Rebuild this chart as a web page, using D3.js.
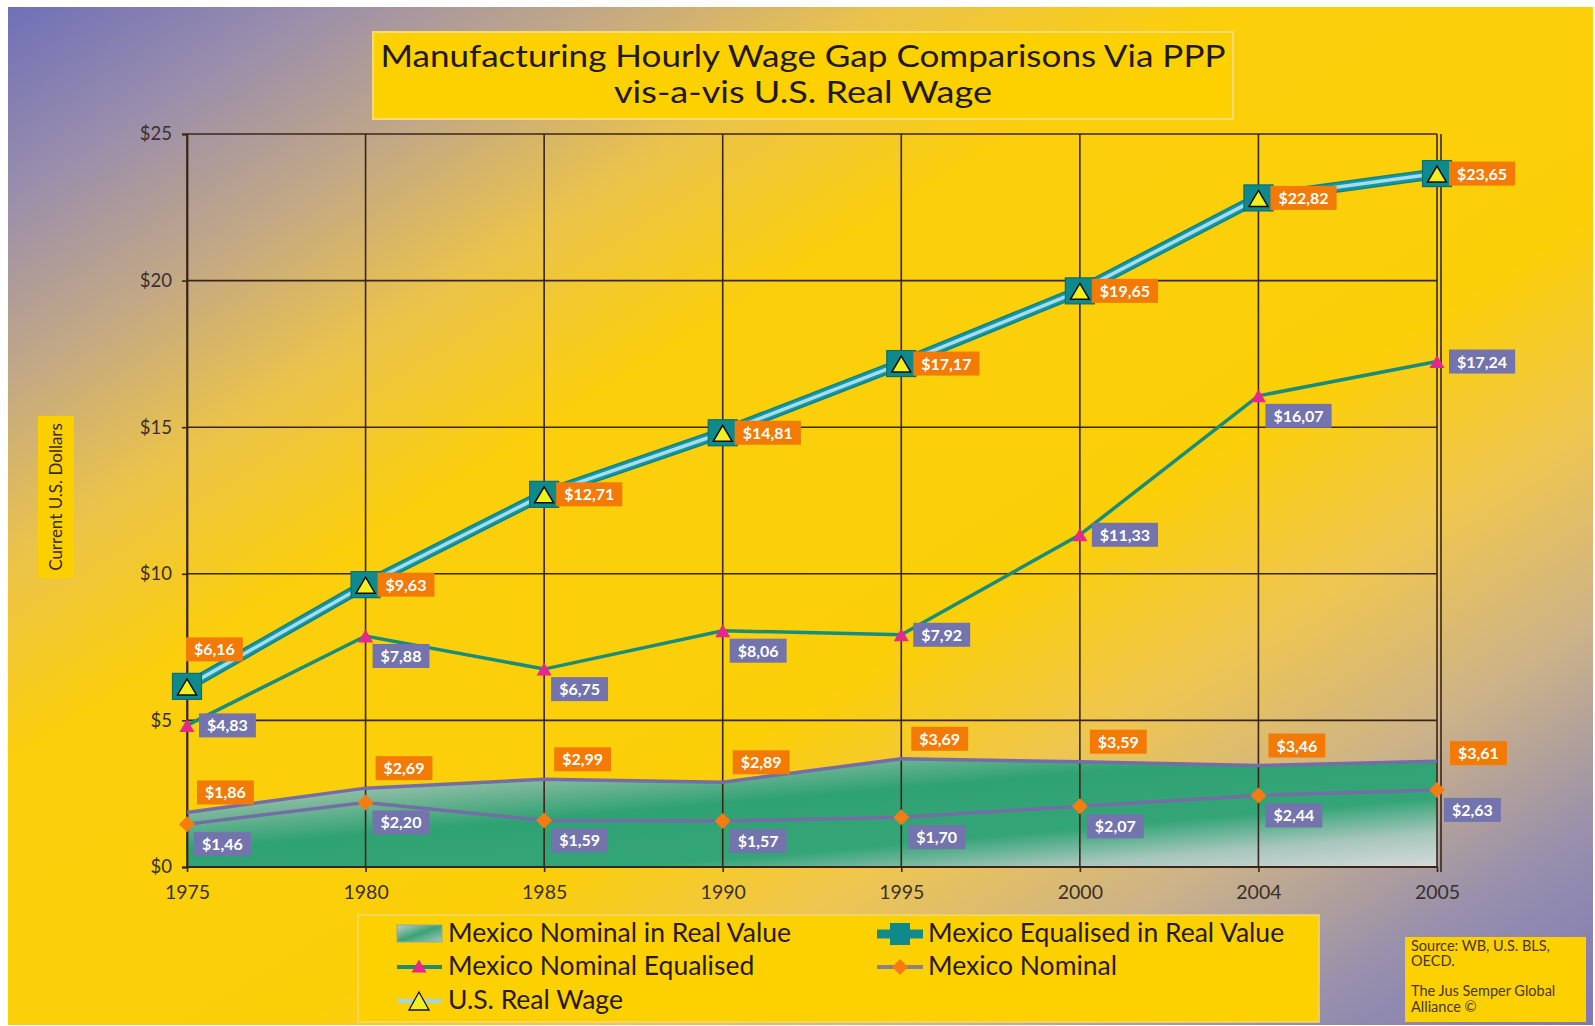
<!DOCTYPE html>
<html><head><meta charset="utf-8">
<script src="https://cdn.jsdelivr.net/npm/d3@7"></script>
<style>html,body{margin:0;padding:0;background:#fff;} svg{display:block}</style>
</head><body><svg id="c" width="1595" height="1026"></svg>
<script>
// ---------------- DATA ----------------
const years = ["1975","1980","1985","1990","1995","2000","2004","2005"];
const usRealWage          = [6.16, 9.63, 12.71, 14.81, 17.17, 19.65, 22.82, 23.65];
const mexEqualisedReal    = [6.16, 9.63, 12.71, 14.81, 17.17, 19.65, 22.82, 23.65];
const mexNominalEqualised = [4.83, 7.88, 6.75, 8.06, 7.92, 11.33, 16.07, 17.24];
const mexNominalReal      = [1.86, 2.69, 2.99, 2.89, 3.69, 3.59, 3.46, 3.61];
const mexNominal          = [1.46, 2.20, 1.59, 1.57, 1.70, 2.07, 2.44, 2.63];
const yTicks = [0, 5, 10, 15, 20, 25];
const titleLines = ["Manufacturing Hourly Wage Gap Comparisons Via PPP", "vis-a-vis U.S. Real Wage"];
const yTitle = "Current U.S. Dollars";
const legendNames = ["Mexico Nominal in Real Value", "Mexico Equalised in Real Value",
                     "Mexico Nominal Equalised", "Mexico Nominal", "U.S. Real Wage"];
const sourceLines = ["Source: WB, U.S. BLS,", "OECD.", "The Jus Semper Global", "Alliance \u00A9"];
// label placement keywords (styling)
const usLabelPlace      = ["above","right","right","right","right","right","right","right"];
const nomEqLabelPlace   = ["right","belowRight","belowRight","belowRight","right","right","belowRight","right"];
const nomRealLabelPlace = ["aboveRight","aboveRight","aboveRight","aboveRight","aboveRight","aboveRight","aboveRight","rightHigh"];
const nomLabelPlace     = ["belowRight","belowRight","belowRight","belowRight","belowRight","belowRight","belowRight","belowRight"];

// ---------------- SETUP ----------------
const W = 1595, H = 1026;
const svg = d3.select("#c");
const defs = svg.append("defs");
const FONT = "Lato, 'Open Sans', sans-serif";

const bg = defs.append("linearGradient").attr("id","bg").attr("gradientUnits","userSpaceOnUse")
  .attr("x1",0).attr("y1",0).attr("x2",909).attr("y2",1455);
[[0,"#6c6eb8"],[0.1,"#9a8eac"],[0.19,"#c2a886"],[0.28,"#ebc34a"],[0.38,"#fbcf0c"],[0.6,"#fbcf08"],
 [0.7,"#efc650"],[0.8,"#cdb388"],[0.9,"#9890ac"],[1,"#7c78b8"]]
 .forEach(([o,c]) => bg.append("stop").attr("offset",o).attr("stop-color",c));

const ag = defs.append("linearGradient").attr("id","areaG").attr("x1",0).attr("y1",0).attr("x2",1).attr("y2",1);
[[0,"#c4cec6"],[0.22,"#8cbca4"],[0.42,"#2fa273"],[0.68,"#34a576"],[0.84,"#a6c6bc"],[1,"#d6dada"]]
 .forEach(([o,c]) => ag.append("stop").attr("offset",o).attr("stop-color",c));

const lg = defs.append("linearGradient").attr("id","legG").attr("x1",0).attr("y1",0).attr("x2",1).attr("y2",1);
[[0,"#c0d0c8"],[0.5,"#3aa276"],[1,"#a8c8bc"]]
 .forEach(([o,c]) => lg.append("stop").attr("offset",o).attr("stop-color",c));

svg.append("rect").attr("width",W).attr("height",H).attr("fill","#fff");
svg.append("rect").attr("x",8).attr("y",7).attr("width",W-10).attr("height",H-8).attr("fill","url(#bg)");

// scales
const x = d3.scalePoint().domain(years).range([187, 1437]);
const y = d3.scaleLinear().domain([0, 25]).range([867, 134]);

// ---------------- TITLE ----------------
svg.append("rect").attr("x",373).attr("y",32).attr("width",860).attr("height",87)
  .attr("fill","#fdd000").attr("stroke","#f3dc78").attr("stroke-width",2);
const titleLen = [845, 378];
svg.selectAll("text.title").data(titleLines).enter().append("text")
  .attr("x",803).attr("y",(d,i)=>67+i*36).attr("text-anchor","middle")
  .attr("textLength",(d,i)=>titleLen[i]).attr("lengthAdjust","spacingAndGlyphs")
  .attr("font-family",FONT).attr("font-size",31).attr("fill","#221a10").text(d=>d);

// y title
svg.append("rect").attr("x",38).attr("y",416).attr("width",36).attr("height",162).attr("fill","#fcd000");
svg.append("text").attr("transform","translate(62,497) rotate(-90)").attr("text-anchor","middle")
  .attr("font-family",FONT).attr("font-size",17).attr("fill","#3a2a10").text(yTitle);

// ---------------- AREA ----------------
const idx = d3.range(years.length);
const area = d3.area().x(i=>x(years[i])).y0(y(0)).y1(i=>y(mexNominalReal[i]));
svg.append("path").datum(idx).attr("d",area).attr("fill","url(#areaG)");

// ---------------- GRID & AXES ----------------
const GRID = "#3a2618";
svg.append("g").selectAll("line").data(yTicks).enter().append("line")
  .attr("x1",187).attr("x2",1437).attr("y1",d=>y(d)).attr("y2",d=>y(d))
  .attr("stroke",GRID).attr("stroke-width",1.6);
svg.append("g").selectAll("line").data(years).enter().append("line")
  .attr("x1",d=>x(d)).attr("x2",d=>x(d)).attr("y1",y(25)).attr("y2",y(0))
  .attr("stroke",GRID).attr("stroke-width",1.6);
svg.append("line").attr("x1",1441).attr("x2",1441).attr("y1",y(25)).attr("y2",y(0)+5)
  .attr("stroke",GRID).attr("stroke-width",1.6);

const yAxis = svg.append("g").attr("transform","translate(187,0)")
  .call(d3.axisLeft(y).tickValues(yTicks).tickSize(5).tickPadding(10).tickFormat(d=>"$"+d));
yAxis.select(".domain").attr("stroke",GRID).attr("stroke-width",1.8);
yAxis.selectAll(".tick line").attr("stroke",GRID).attr("stroke-width",1.6);
yAxis.selectAll("text").attr("font-family",FONT).attr("font-size",18.5).attr("fill","#3a3030");

const xAxis = svg.append("g").attr("transform","translate(0,"+y(0)+")")
  .call(d3.axisBottom(x).tickSize(5).tickPadding(13));
xAxis.select(".domain").remove();
xAxis.selectAll(".tick line").attr("stroke",GRID).attr("stroke-width",1.6);
xAxis.selectAll("text").attr("font-family",FONT).attr("font-size",19.5).attr("fill","#3a3028");
svg.append("line").attr("x1",187).attr("x2",1437).attr("y1",y(0)).attr("y2",y(0))
  .attr("stroke",GRID).attr("stroke-width",2);

// ---------------- LINES ----------------
const line = arr => d3.line().x(i=>x(years[i])).y(i=>y(arr[i]))(idx);
svg.append("path").attr("d",line(mexNominalReal)).attr("fill","none").attr("stroke","#756da6").attr("stroke-width",3.5);
svg.append("path").attr("d",line(mexNominal)).attr("fill","none").attr("stroke","#756da6").attr("stroke-width",3.5);
svg.append("path").attr("d",line(mexNominalEqualised)).attr("fill","none").attr("stroke","#1a8c7a").attr("stroke-width",3.5);
svg.append("path").attr("d",line(mexEqualisedReal)).attr("fill","none").attr("stroke","#0f8386").attr("stroke-width",11).attr("stroke-linejoin","round");
svg.append("path").attr("d",line(mexEqualisedReal)).attr("fill","none").attr("stroke","#1697a0").attr("stroke-width",8).attr("stroke-linejoin","round");
svg.append("path").attr("d",line(usRealWage)).attr("fill","none").attr("stroke","#a4dcf0").attr("stroke-width",3.5).attr("stroke-linejoin","round");

// ---------------- MARKERS ----------------
const tri = (w,h) => `M0,${-h/2}L${w/2},${h/2}L${-w/2},${h/2}Z`;
svg.append("g").selectAll("path").data(idx).enter().append("path")
  .attr("transform",i=>`translate(${x(years[i])},${y(mexNominal[i])})`)
  .attr("d","M0,-8L8,0L0,8L-8,0Z").attr("fill","#f57c12");
svg.append("g").selectAll("path").data(idx).enter().append("path")
  .attr("transform",i=>`translate(${x(years[i])},${y(mexNominalEqualised[i])})`)
  .attr("d",tri(15,13)).attr("fill","#e6288c");
svg.append("g").selectAll("rect").data(idx).enter().append("rect")
  .attr("x",i=>x(years[i])-14.5).attr("y",i=>y(mexEqualisedReal[i])-13).attr("width",29).attr("height",26)
  .attr("fill","#0f8a8c").attr("stroke","#0b6f70").attr("stroke-width",1.2);
svg.append("g").selectAll("path").data(idx).enter().append("path")
  .attr("transform",i=>`translate(${x(years[i])},${y(usRealWage[i])+0.5})`)
  .attr("d",tri(19,16)).attr("fill","#f3ef1a").attr("stroke","#111").attr("stroke-width",1.5).attr("stroke-linejoin","miter");

// ---------------- LABELS ----------------
const fmt = v => "$" + v.toFixed(2).replace(".", ",");
function labels(arr, places, color) {
  const g = svg.append("g");
  arr.forEach((v,i) => {
    const px = x(years[i]), py = y(v);
    const lg = g.append("g");
    const t = lg.append("text").attr("font-family",FONT).attr("font-weight","bold").attr("font-size",16)
      .attr("fill","#fff").text(fmt(v));
    const tw = t.node().getComputedTextLength();
    const bw = tw + 16, bh = 24;
    let bx, by;
    const p = places[i];
    if (p === "above")      { bx = px - 1;  by = py - 25 - bh; }
    else if (p === "right") { bx = px + 12; by = py - bh/2; }
    else if (p === "rightHigh") { bx = px + 13; by = py - bh + 4; }
    else if (p === "aboveRight") { bx = px + 10; by = py - 8 - bh; }
    else { bx = px + 7; by = py + 8; }
    lg.insert("rect","text").attr("x",bx).attr("y",by).attr("width",bw).attr("height",bh).attr("fill",color);
    t.attr("x",bx+8).attr("y",by+18);
  });
}
const ORANGE = "#f47a06", PURPLE = "#7373ad";
labels(usRealWage, usLabelPlace, ORANGE);
labels(mexNominalEqualised, nomEqLabelPlace, PURPLE);
labels(mexNominalReal, nomRealLabelPlace, ORANGE);
labels(mexNominal, nomLabelPlace, PURPLE);

// ---------------- LEGEND ----------------
svg.append("rect").attr("x",358).attr("y",915).attr("width",961).attr("height",107)
  .attr("fill","#fdd000").attr("stroke","#f0d878").attr("stroke-width",1.5);
const leg = svg.append("g");
const legPos = [[397,934],[877,934],[397,967],[877,967],[397,1001]];
legendNames.forEach((name,k) => {
  const [lx,ly] = legPos[k];
  const g = leg.append("g").attr("transform",`translate(${lx},${ly})`);
  if (k === 0) {
    g.append("rect").attr("x",0).attr("y",-9).attr("width",45).attr("height",17).attr("fill","url(#legG)").attr("stroke","#8fa8a0");
  } else if (k === 1) {
    g.append("line").attr("x1",0).attr("x2",46).attr("stroke","#128b8d").attr("stroke-width",9);
    g.append("rect").attr("x",13).attr("y",-11).attr("width",20).attr("height",22).attr("fill","#0f8a8c");
  } else if (k === 2) {
    g.append("line").attr("x1",0).attr("x2",45).attr("stroke","#1a8c7a").attr("stroke-width",4);
    g.append("path").attr("transform","translate(22,-1)").attr("d",tri(15,13)).attr("fill","#e6288c");
  } else if (k === 3) {
    g.append("line").attr("x1",0).attr("x2",46).attr("stroke","#8a8090").attr("stroke-width",4);
    g.append("path").attr("transform","translate(23,0)").attr("d","M0,-8L8,0L0,8L-8,0Z").attr("fill","#f57c12");
  } else {
    g.append("line").attr("x1",0).attr("x2",45).attr("stroke","#a4d4e8").attr("stroke-width",4);
    g.append("path").attr("transform","translate(22,0)").attr("d",tri(20,18)).attr("fill","#f3ef1a").attr("stroke","#111").attr("stroke-width",1.3);
  }
  g.append("text").attr("x",51).attr("y",8).attr("font-family",FONT).attr("font-size",26.5)
    .attr("fill","#2a1a10").text(name);
});

// ---------------- SOURCE ----------------
svg.append("rect").attr("x",1405).attr("y",937).attr("width",181).attr("height",85).attr("fill","#fdd000");
const srcY = [951, 966, 996, 1012];
svg.append("g").selectAll("text").data(sourceLines).enter().append("text")
  .attr("x",1411).attr("y",(d,i)=>srcY[i]).attr("font-family",FONT).attr("font-size",14.5)
  .attr("fill","#4a3818").text(d=>d);
</script></body></html>
